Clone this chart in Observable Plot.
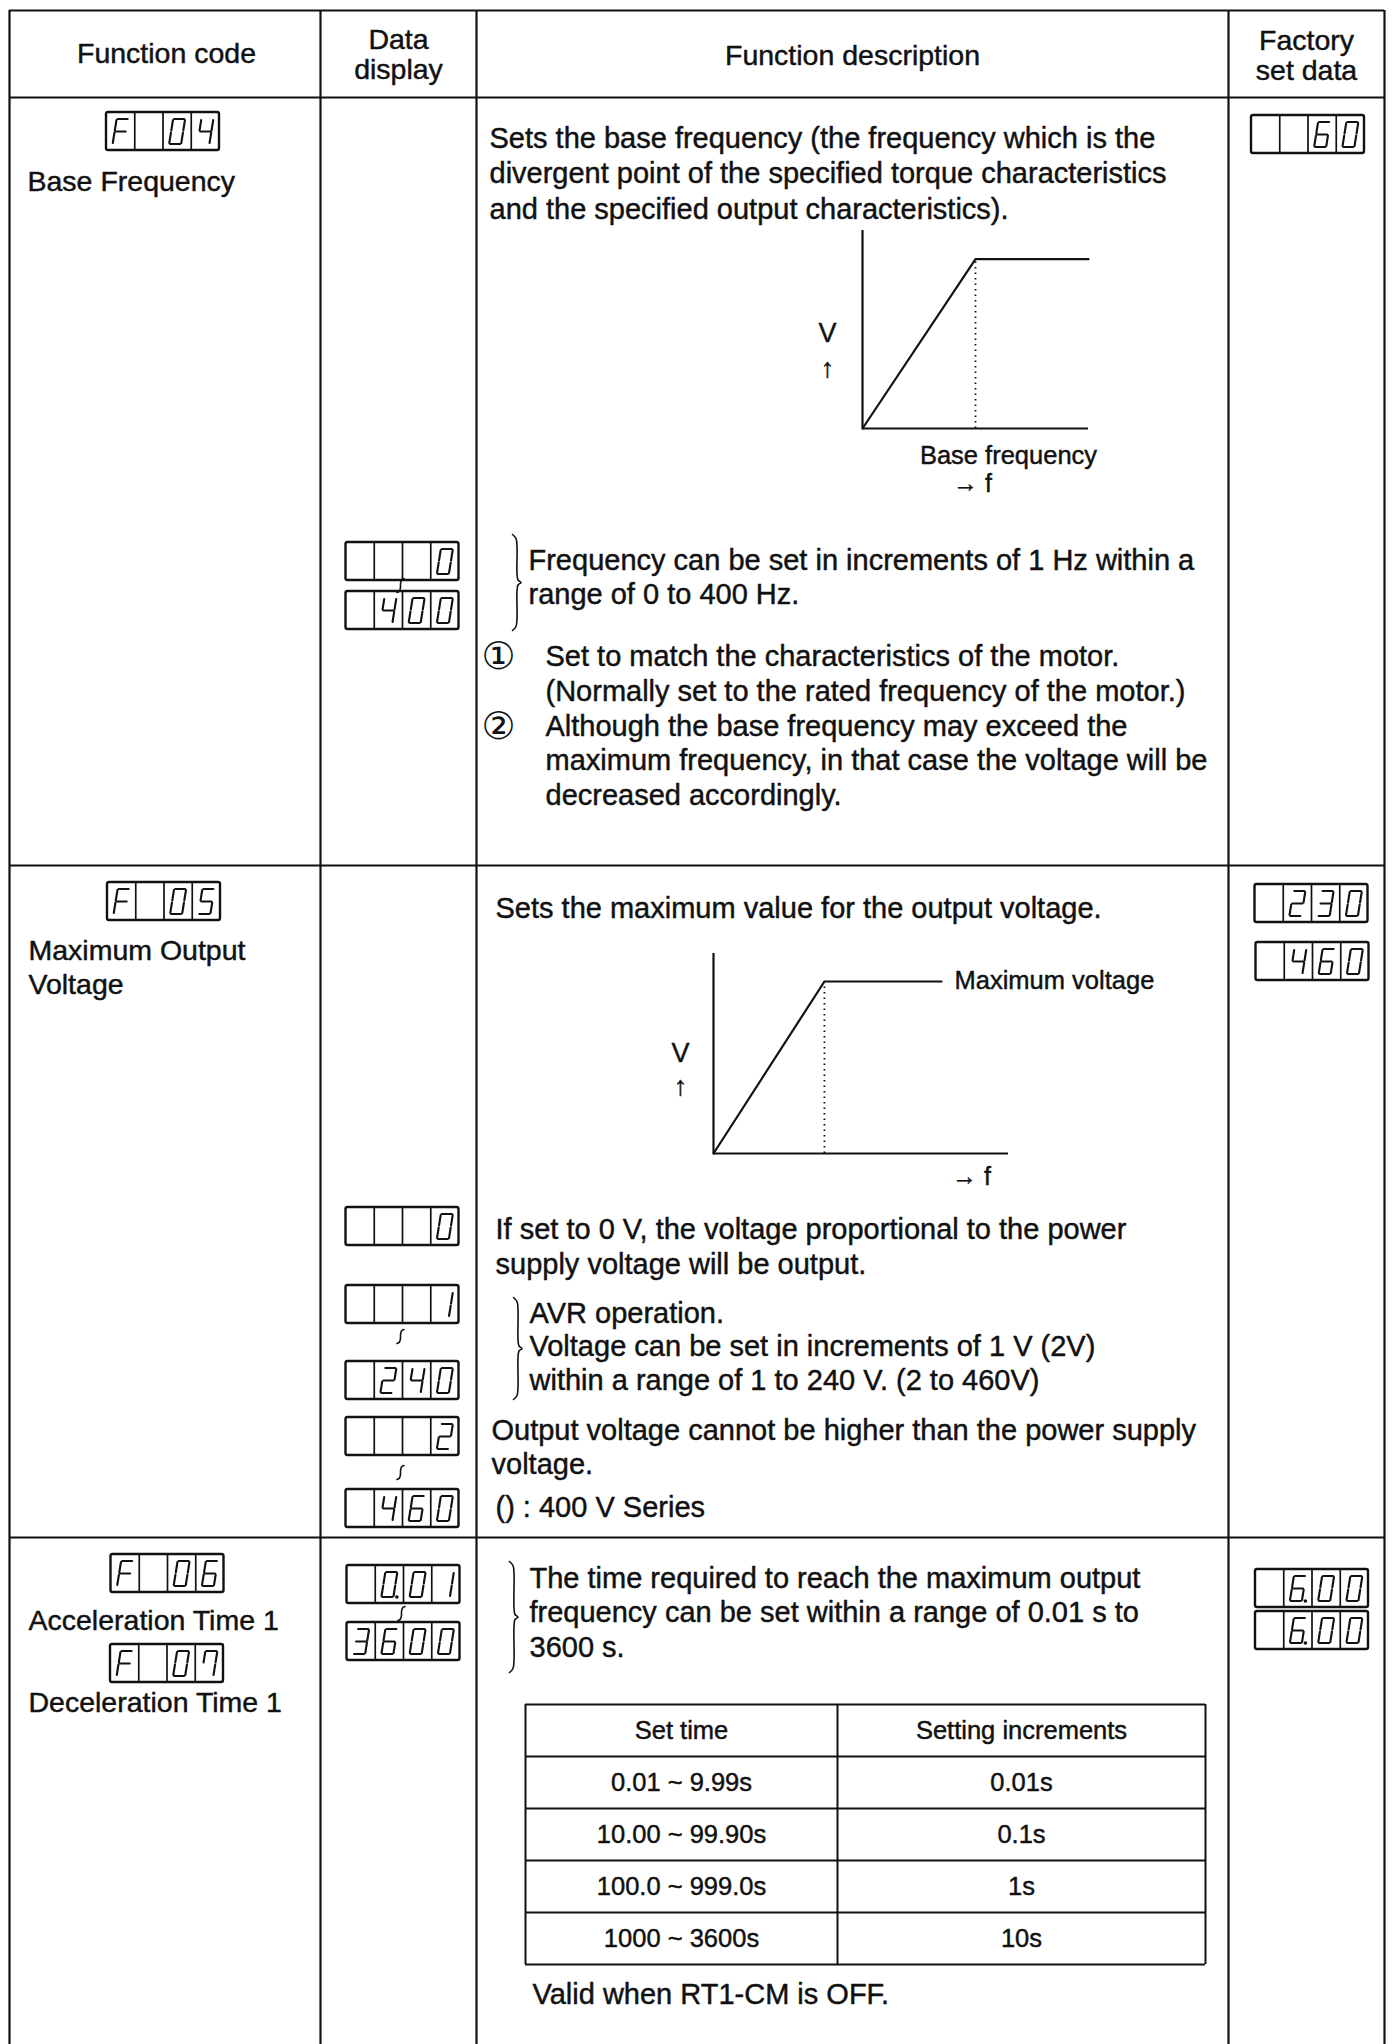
<!DOCTYPE html>
<html><head><meta charset="utf-8">
<script src="https://cdn.jsdelivr.net/npm/d3@7"></script>
<script src="https://cdn.jsdelivr.net/npm/@observablehq/plot@0.6"></script>
<style>
html,body{margin:0;padding:0;background:#fff;}
#page{position:relative;width:1392px;height:2044px;overflow:hidden;background:#fff;}
#page svg{position:absolute;left:0;top:0;}
</style></head><body><div id="page"></div>
<script>
// ================= DATA =================
const columnHeaders = ["Function code", "Data\ndisplay", "Function description", "Factory\nset data"];
const functionCodes = ["F 04", "F 05", "F 06", "F 07"];
const functionNames = ["Base Frequency", "Maximum Output\nVoltage", "Acceleration Time 1", "Deceleration Time 1"];
const dataDisplays1 = ["   0", " 400"];
const dataDisplays2 = ["   0", "   1", " 240", "   2", " 460"];
const dataDisplays3 = [" 0.01", "3600"];
const factorySetData = ["  60", " 230", " 460", " 6.00", " 6.00"];
const desc1Intro = ["Sets the base frequency (the frequency which is the", "divergent point of the specified torque characteristics", "and the specified output characteristics)."];
const desc1Range = ["Frequency can be set in increments of 1 Hz within a", "range of 0 to 400 Hz."];
const noteMarks = ["①", "②"];
const note1 = ["Set to match the characteristics of the motor.", "(Normally set to the rated frequency of the motor.)"];
const note2 = ["Although the base frequency may exceed the", "maximum frequency, in that case the voltage will be", "decreased accordingly."];
const desc2Intro = ["Sets the maximum value for the output voltage."];
const desc2Zero = ["If set to 0 V, the voltage proportional to the power", "supply voltage will be output."];
const desc2Avr = ["AVR operation.", "Voltage can be set in increments of 1 V (2V)", "within a range of 1 to 240 V. (2 to 460V)"];
const desc2Limit = ["Output voltage cannot be higher than the power supply", "voltage."];
const desc2Note = ["() : 400 V Series"];
const desc3Range = ["The time required to reach the maximum output", "frequency can be set within a range of 0.01 s to", "3600 s."];
const incrementsHeader = ["Set time", "Setting increments"];
const setTimes = ["0.01 ~ 9.99s", "10.00 ~ 99.90s", "100.0 ~ 999.0s", "1000 ~ 3600s"];
const settingIncrements = ["0.01s", "0.1s", "1s", "10s"];
const desc3Note = ["Valid when RT1-CM is OFF."];
const graphLabels1 = ["V", "↑", "Base frequency", "→ f"];
const graphLabels2 = ["V", "↑", "Maximum voltage", "→ f"];
// V/f characteristic curves (f and V in % of axis length)
const baseCurveF = [0, 50, 100];
const baseCurveV = [0, 85.5, 85.5];
const maxVoltCurveF = [0, 37.6, 77.3];
const maxVoltCurveV = [0, 86, 86];

// ================= LAYOUT =================
const W = 1392, H = 2044;
const FONT = "'Liberation Sans', Arial, Helvetica, sans-serif";
const INK = "#111";
const COLS = [9, 320, 476, 1228, 1384];
const TOP = 10, HEAD_BOTTOM = 97, ROW_LINES = [865, 1537];
const HEADER_POS = [[166, 53], [398, 54], [852, 55], [1306, 55]];
const CODE_POS = [[162.5, 131], [163.5, 901], [167, 1573], [166.5, 1663]];
const NAME_POS = [[27, 181], [28, 950], [28, 1620], [28, 1702]];
const DATA_POS1 = [[402, 561], [402, 610]];
const DATA_POS2 = [[402, 1226], [402, 1304], [402, 1380], [402, 1436], [402, 1508]];
const DATA_POS3 = [[403, 1584], [403, 1641]];
const FACT_POS = [[1307.5, 134], [1311, 903], [1312, 961], [1311.5, 1588], [1311.5, 1630]];
const RANGE_MARKS = [[400, 585], [400, 1336], [400, 1472], [401, 1613]];
const BOX_W = 113, BOX_H = 38, DIG_W = 12, DIG_H = 25, SLANT = 4;

// ---- text blocks ----
const texts = {header: [], name: [], desc: [], mark: [], smallStart: [], smallMid: [], table: []};
function block(group, lines, x, y0, step, extra = {}) {
  lines.forEach((t, i) => texts[group].push({t, x, y: y0 + i * step, ...extra}));
}
columnHeaders.forEach((h, i) => {
  const ls = h.split("\n"); const step = 30;
  block("header", ls, HEADER_POS[i][0], HEADER_POS[i][1] - (ls.length - 1) * step / 2, step);
});
functionNames.forEach((n, i) => block("name", n.split("\n"), NAME_POS[i][0], NAME_POS[i][1], 34));
block("desc", desc1Intro, 489, 138, 35.5);
block("desc", desc1Range, 528, 560, 34);
block("mark", [noteMarks[0]], 498, 656, 0);
block("desc", note1, 545, 656, 35);
block("mark", [noteMarks[1]], 498, 726, 0);
block("desc", note2, 545, 726, 34.5);
block("desc", desc2Intro, 495, 908, 0);
block("desc", desc2Zero, 495, 1229, 35);
block("desc", desc2Avr, 529, 1313, 33.5);
block("desc", desc2Limit, 491, 1430, 34);
block("desc", desc2Note, 495, 1507, 0);
block("desc", desc3Range, 529, 1578, 34.5);
block("desc", desc3Note, 532, 1994, 0);
// graph labels
block("smallMid", graphLabels1.slice(0, 2), 827, 333, 35, {s: 27});
block("smallMid", [graphLabels1[2]], 1008, 455, 0, {s: 25.5});
block("smallMid", [graphLabels1[3]], 972, 483, 0, {s: 25});
block("smallMid", graphLabels2.slice(0, 2), 680, 1053, 33, {s: 27});
block("smallStart", [graphLabels2[2]], 954, 980, 0, {s: 25.5});
block("smallMid", [graphLabels2[3]], 971, 1176, 0, {s: 25});

// ---- inner table ----
const TBL_X = [525, 837, 1205];
const TBL_Y0 = 1704, TBL_ROW = 52;
const tblRows = [incrementsHeader, ...setTimes.map((s, i) => [s, settingIncrements[i]])];
tblRows.forEach((r, i) => r.forEach((t, j) => texts.table.push({t, x: (TBL_X[j] + TBL_X[j + 1]) / 2, y: TBL_Y0 + (i + 0.5) * TBL_ROW})));
const tblLines = d3.range(tblRows.length + 1).map(i => TBL_Y0 + i * TBL_ROW);

// ---- seven-segment displays ----
const SEG = {a: [[0, 0], [1, 0]], b: [[1, 0], [1, .5]], c: [[1, .5], [1, 1]], d: [[0, 1], [1, 1]], e: [[0, .5], [0, 1]], f: [[0, 0], [0, .5]], g: [[0, .5], [1, .5]]};
const GLYPH = {"0": "abcdef", "1": "bc", "2": "abged", "3": "abgcd", "4": "fgbc", "5": "afgcd", "6": "afgedc", "7": "abcf", "8": "abcdefg", "9": "abcdfg", "F": "aefg", " ": ""};
const boxes = [], dividers = [], segments = [], points = [];
function parseDisplay(s) {
  const cells = [];
  for (const ch of s) { if (ch === ".") cells[cells.length - 1].dp = true; else cells.push({ch, dp: false}); }
  return cells;
}
function addDisplay(str, cx, cy) {
  const x1 = cx - BOX_W / 2, y1 = cy - BOX_H / 2, cw = BOX_W / 4;
  boxes.push({x1, x2: x1 + BOX_W, y1, y2: y1 + BOX_H});
  for (let k = 1; k < 4; k++) dividers.push({x1: x1 + k * cw, y1, x2: x1 + k * cw, y2: y1 + BOX_H});
  parseDisplay(str).forEach((cell, k) => {
    const ccx = x1 + (k + 0.5) * cw;
    const P = ([u, v]) => [ccx + (u - 0.5) * DIG_W + (0.5 - v) * SLANT, cy + (v - 0.5) * DIG_H];
    for (const s of GLYPH[cell.ch] || "") {
      const [p, q] = SEG[s].map(P);
      const dx = q[0] - p[0], dy = q[1] - p[1], sh = 0.08;
      segments.push({x1: p[0] + dx * sh, y1: p[1] + dy * sh, x2: q[0] - dx * sh, y2: q[1] - dy * sh});
    }
    if (cell.dp) points.push({x: ccx + DIG_W / 2 + 1.5, y: cy + DIG_H / 2});
  });
}
functionCodes.forEach((s, i) => addDisplay(s, ...CODE_POS[i]));
dataDisplays1.forEach((s, i) => addDisplay(s, ...DATA_POS1[i]));
dataDisplays2.forEach((s, i) => addDisplay(s, ...DATA_POS2[i]));
dataDisplays3.forEach((s, i) => addDisplay(s, ...DATA_POS3[i]));
factorySetData.forEach((s, i) => addDisplay(s, ...FACT_POS[i]));

// ---- braces and range marks (small vertical waves between displays) ----
const strokes = [];
function addBrace(id, x, y0, y1) {
  const ym = (y0 + y1) / 2;
  [[0, y0], [3.5, y0 + 4], [4.5, y0 + 12], [4.5, ym - 9], [5.5, ym - 2.5], [8.5, ym], [5.5, ym + 2.5], [4.5, ym + 9], [4.5, y1 - 12], [3.5, y1 - 4], [0, y1]]
    .forEach(([dx, y]) => strokes.push({id, x: x + dx, y}));
}
addBrace("b1", 512, 534, 630);
addBrace("b2", 513, 1297, 1399);
addBrace("b3", 509, 1561, 1672);
RANGE_MARKS.forEach(([x, y], i) => {
  [[3.5, -7], [1, -5.5], [0, -1.5], [0, 1.5], [-1, 5.5], [-3.5, 7]]
    .forEach(([dx, dy]) => strokes.push({id: "r" + i, x: x + dx, y: y + dy}));
});

const textStyle = {fontFamily: FONT, fill: INK, stroke: INK, strokeWidth: 0.45};
const main = Plot.plot({
  width: W, height: H, margin: 0,
  x: {domain: [0, W], range: [0, W], axis: null},
  y: {domain: [0, H], range: [0, H], axis: null},
  style: {background: "#fff"},
  marks: [
    Plot.ruleX(COLS, {y1: TOP, y2: H, stroke: INK, strokeWidth: 2.2}),
    Plot.ruleY([TOP, HEAD_BOTTOM, ...ROW_LINES], {x1: COLS[0], x2: COLS[4], stroke: INK, strokeWidth: 2.2}),
    Plot.ruleY(tblLines, {x1: TBL_X[0], x2: TBL_X[2], stroke: INK, strokeWidth: 2}),
    Plot.ruleX(TBL_X, {y1: tblLines[0], y2: tblLines[tblLines.length - 1], stroke: INK, strokeWidth: 2}),
    Plot.rect(boxes, {x1: "x1", x2: "x2", y1: "y1", y2: "y2", fill: "none", stroke: INK, strokeWidth: 2.4, rx: 2}),
    Plot.link(dividers, {x1: "x1", y1: "y1", x2: "x2", y2: "y2", stroke: INK, strokeWidth: 1.7}),
    Plot.link(segments, {x1: "x1", y1: "y1", x2: "x2", y2: "y2", stroke: INK, strokeWidth: 2.1, strokeLinecap: "round"}),
    Plot.dot(points, {x: "x", y: "y", r: 1.8, fill: INK, stroke: "none"}),
    Plot.line(strokes, {x: "x", y: "y", z: "id", curve: "catmull-rom", stroke: INK, strokeWidth: 1.6}),
    Plot.text(texts.header, {x: "x", y: "y", text: "t", textAnchor: "middle", fontSize: 28.5, ...textStyle}),
    Plot.text(texts.name, {x: "x", y: "y", text: "t", textAnchor: "start", fontSize: 28.5, ...textStyle}),
    Plot.text(texts.desc, {x: "x", y: "y", text: "t", textAnchor: "start", fontSize: 29, ...textStyle}),
    Plot.text(texts.mark, {x: "x", y: "y", text: "t", textAnchor: "middle", fontSize: 38, fontFamily: "'DejaVu Sans', sans-serif", fill: INK}),
    Plot.text(texts.smallMid, {x: "x", y: "y", text: "t", textAnchor: "middle", fontSize: "s", ...textStyle}),
    Plot.text(texts.smallStart, {x: "x", y: "y", text: "t", textAnchor: "start", fontSize: "s", ...textStyle}),
    Plot.text(texts.table, {x: "x", y: "y", text: "t", textAnchor: "middle", fontSize: 25.5, ...textStyle})
  ]
});
const page = document.getElementById("page");
page.appendChild(main);

// ---- V/f graphs drawn with their own scales ----
function vfGraph(F, V, left, top, w, h) {
  const data = F.map((f, i) => ({f, v: V[i]}));
  const m = 8;
  const svg = Plot.plot({
    width: w + 2 * m, height: h + 2 * m, margin: m,
    x: {domain: [0, 100], axis: null},
    y: {domain: [0, 100], axis: null},
    style: {background: "transparent", overflow: "visible"},
    marks: [
      Plot.ruleX([F[1]], {y1: 0, y2: V[1], stroke: INK, strokeWidth: 1.8, strokeDasharray: "1.5,4"}),
      Plot.ruleY([0], {x1: 0, x2: 100, stroke: INK, strokeWidth: 2.2}),
      Plot.ruleX([0], {y1: 0, y2: 100, stroke: INK, strokeWidth: 2.2}),
      Plot.line(data, {x: "f", y: "v", stroke: INK, strokeWidth: 2.2})
    ]
  });
  svg.style.left = (left - m) + "px";
  svg.style.top = (top - m) + "px";
  page.appendChild(svg);
}
vfGraph(baseCurveF, baseCurveV, 862, 230, 226, 198);
vfGraph(maxVoltCurveF, maxVoltCurveV, 713, 953, 295, 200);
</script></body></html>
